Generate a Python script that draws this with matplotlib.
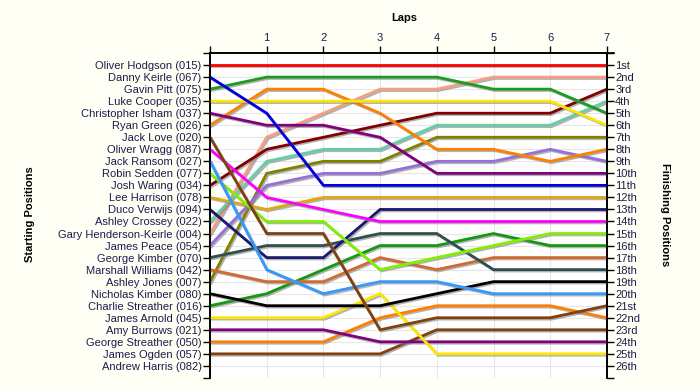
#!/usr/bin/env python3
"""Lap chart: position of every driver at the end of each lap."""

import matplotlib

matplotlib.use("Agg")

import matplotlib.pyplot as plt
import matplotlib.patheffects as pe

FONT = "Liberation Sans"
TEXT_COLOR = "#1c1c4c"
BG = "#fffff5"

LAPS = [0, 1, 2, 3, 4, 5, 6, 7]

DRIVERS = [
    "Oliver Hodgson (015)", "Danny Keirle (067)", "Gavin Pitt (075)",
    "Luke Cooper (035)", "Christopher Isham (037)", "Ryan Green (026)",
    "Jack Love (020)", "Oliver Wragg (087)", "Jack Ransom (027)",
    "Robin Sedden (077)", "Josh Waring (034)", "Lee Harrison (078)",
    "Duco Verwijs (094)", "Ashley Crossey (022)", "Gary Henderson-Keirle (004)",
    "James Peace (054)", "George Kimber (070)", "Marshall Williams (042)",
    "Ashley Jones (007)", "Nicholas Kimber (080)", "Charlie Streather (016)",
    "James Arnold (045)", "Amy Burrows (021)", "George Streather (050)",
    "James Ogden (057)", "Andrew Harris (082)",
]

FINISH_LABELS = [
    "1st", "2nd", "3rd", "4th", "5th", "6th", "7th", "8th", "9th", "10th",
    "11th", "12th", "13th", "14th", "15th", "16th", "17th", "18th", "19th",
    "20th", "21st", "22nd", "23rd", "24th", "25th", "26th",
]

# positions at the end of laps 0..7 (Andrew Harris has no laps)
POSITIONS = {
    "Oliver Hodgson (015)": [1, 1, 1, 1, 1, 1, 1, 1],
    "Danny Keirle (067)": [2, 5, 11, 11, 11, 11, 11, 11],
    "Gavin Pitt (075)": [3, 2, 2, 2, 2, 3, 3, 5],
    "Luke Cooper (035)": [4, 4, 4, 4, 4, 4, 4, 6],
    "Christopher Isham (037)": [5, 6, 6, 7, 10, 10, 10, 10],
    "Ryan Green (026)": [6, 3, 3, 5, 8, 8, 9, 8],
    "Jack Love (020)": [7, 15, 15, 23, 22, 22, 22, 21],
    "Oliver Wragg (087)": [8, 12, 13, 14, 14, 14, 14, 14],
    "Jack Ransom (027)": [9, 18, 20, 19, 19, 20, 20, 20],
    "Robin Sedden (077)": [10, 14, 14, 18, 17, 16, 15, 15],
    "Josh Waring (034)": [11, 8, 7, 6, 5, 5, 5, 3],
    "Lee Harrison (078)": [12, 13, 12, 12, 12, 12, 12, 12],
    "Duco Verwijs (094)": [13, 17, 17, 13, 13, 13, 13, 13],
    "Ashley Crossey (022)": [14, 9, 8, 8, 6, 6, 6, 4],
    "Gary Henderson-Keirle (004)": [15, 7, 5, 3, 3, 2, 2, 2],
    "James Peace (054)": [16, 11, 10, 10, 9, 9, 8, 9],
    "George Kimber (070)": [17, 16, 16, 15, 15, 18, 18, 18],
    "Marshall Williams (042)": [18, 19, 19, 17, 18, 17, 17, 17],
    "Ashley Jones (007)": [19, 10, 9, 9, 7, 7, 7, 7],
    "Nicholas Kimber (080)": [20, 21, 21, 21, 20, 19, 19, 19],
    "Charlie Streather (016)": [21, 20, 18, 16, 16, 15, 16, 16],
    "James Arnold (045)": [22, 22, 22, 20, 25, 25, 25, 25],
    "Amy Burrows (021)": [23, 23, 23, 24, 24, 24, 24, 24],
    "George Streather (050)": [24, 24, 24, 22, 21, 21, 21, 22],
    "James Ogden (057)": [25, 25, 25, 25, 23, 23, 23, 23],
}

COLORS = {
    "Oliver Hodgson (015)": "#ff0000",
    "Danny Keirle (067)": "#0000e0",
    "Gavin Pitt (075)": "#1c9c1c",
    "Luke Cooper (035)": "#ffe600",
    "Christopher Isham (037)": "#800080",
    "Ryan Green (026)": "#ff8000",
    "Jack Love (020)": "#804010",
    "Oliver Wragg (087)": "#ff00ff",
    "Jack Ransom (027)": "#3399ff",
    "Robin Sedden (077)": "#80f000",
    "Josh Waring (034)": "#800000",
    "Lee Harrison (078)": "#e0a810",
    "Duco Verwijs (094)": "#191970",
    "Ashley Crossey (022)": "#66cdaa",
    "Gary Henderson-Keirle (004)": "#f4a080",
    "James Peace (054)": "#9370db",
    "George Kimber (070)": "#2f4f4f",
    "Marshall Williams (042)": "#d2692e",
    "Ashley Jones (007)": "#808000",
    "Nicholas Kimber (080)": "#000000",
    "Charlie Streather (016)": "#109a10",
    "James Arnold (045)": "#ffe600",
    "Amy Burrows (021)": "#800080",
    "George Streather (050)": "#ff8000",
    "James Ogden (057)": "#804010",
}


def main() -> None:
    fig = plt.figure(figsize=(7.0, 3.9), dpi=100, facecolor=BG)
    ax = fig.add_axes([0.30, 0.031, 0.567, 0.833])
    ax.set_facecolor("#ffffff")

    n = len(DRIVERS)
    shadow = [
        pe.SimpleLineShadow(offset=(1, -1), shadow_color="#808080", alpha=0.6),
        pe.Normal(),
    ]
    for name in reversed(DRIVERS):
        if name not in POSITIONS:
            continue
        ax.plot(LAPS, POSITIONS[name], color=COLORS[name], lw=2.0,
                solid_joinstyle="miter", path_effects=shadow, zorder=3)

    ax.set_xlim(LAPS[0], LAPS[-1])
    ax.set_ylim(n + 1, 0)

    ax.set_xticks(LAPS)
    ax.set_xticklabels([""] + [str(l) for l in LAPS[1:]])
    ax.xaxis.tick_top()
    ax.tick_params(axis="x", direction="out", length=5, width=1, pad=2,
                   labelsize=8, colors="black")
    for lbl in ax.get_xticklabels():
        lbl.set_fontfamily(FONT)
        lbl.set_color(TEXT_COLOR)

    ticks = list(range(0, n + 2))
    ax.set_yticks(ticks)
    ax.set_yticklabels([""] + DRIVERS + [""], fontfamily=FONT, fontsize=8,
                       color=TEXT_COLOR)
    ax.tick_params(axis="y", direction="out", length=5, width=1, pad=1)

    ax2 = ax.twinx()
    ax2.set_ylim(n + 1, 0)
    ax2.set_yticks(ticks)
    ax2.set_yticklabels([""] + FINISH_LABELS + [""], fontfamily=FONT,
                        fontsize=8, color=TEXT_COLOR)
    ax2.tick_params(axis="y", direction="out", length=5, width=1, pad=1)

    ax.grid(True, color="#e6e6e6", lw=0.8, zorder=0)
    ax.set_axisbelow(True)
    for a in (ax, ax2):
        a.spines["bottom"].set_visible(False)
        for s in ("left", "right", "top"):
            a.spines[s].set_linewidth(1.2)

    # top axis line runs a little past the right axis, as in the original
    ax.plot([LAPS[-1], LAPS[-1] + 0.12], [0, 0], color="black", lw=1.2,
            clip_on=False, zorder=5)

    fig.text(0.578, 0.955, "Laps", ha="center", va="center",
             fontfamily=FONT, fontsize=8, fontweight="bold")
    fig.text(0.043, 0.45, "Starting Positions", ha="center", va="center",
             rotation=90, fontfamily=FONT, fontsize=8, fontweight="bold")
    fig.text(0.95, 0.45, "Finishing Positions", ha="center", va="center",
             rotation=-90, fontfamily=FONT, fontsize=8, fontweight="bold")

    fig.savefig("out.png", dpi=100, facecolor=BG)


if __name__ == "__main__":
    main()
